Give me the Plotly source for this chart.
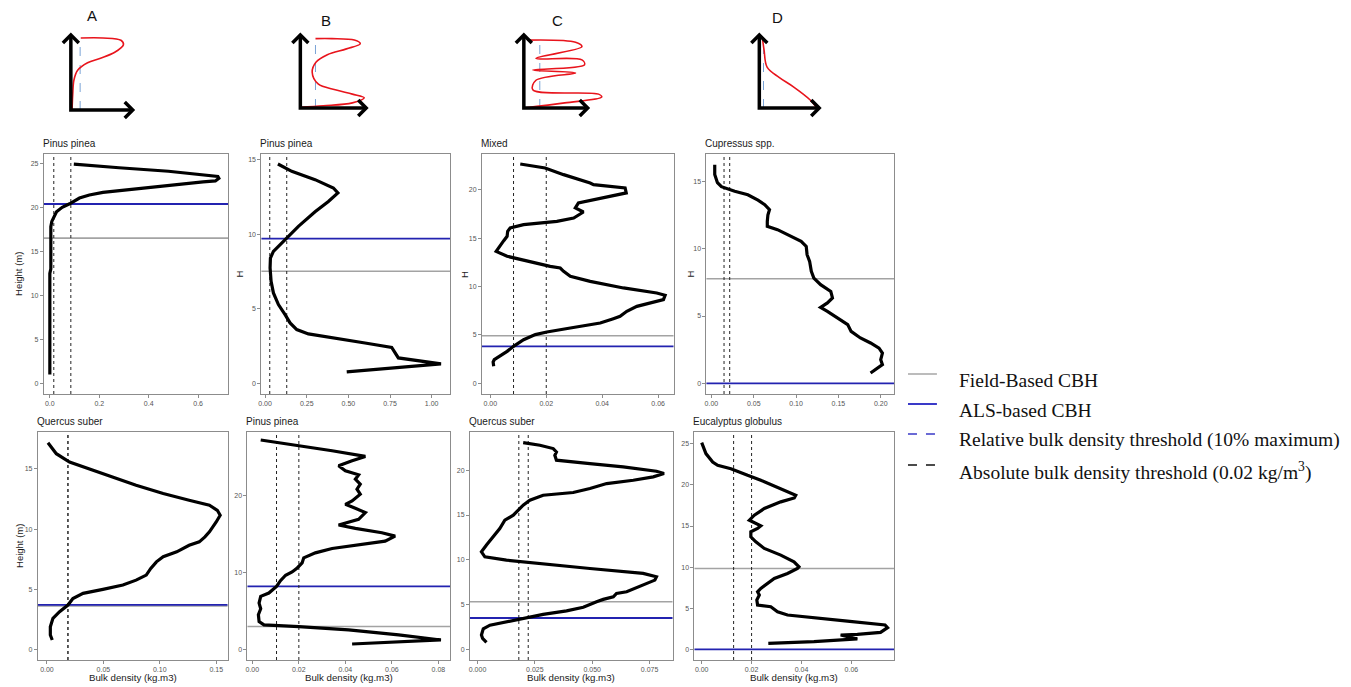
import plotly.graph_objects as go

W, H = 1351, 687

# ---------------- data ----------------
species = ["Pinus pinea", "Pinus pinea", "Mixed", "Cupressus spp.",
           "Quercus suber", "Pinus pinea", "Quercus suber", "Eucalyptus globulus"]

bd1 = [0.0, 0.0, 0.0, 0.0, 0.0, 0.0, 0.004, 0.004, 0.004, 0.004, 0.004, 0.008, 0.018, 0.027,
       0.05, 0.08, 0.12, 0.16, 0.215, 0.28, 0.35, 0.48, 0.62, 0.67, 0.684, 0.68, 0.59, 0.48, 0.28, 0.097]
h1 = [1.0, 3.0, 5.0, 8.0, 10.0, 12.5, 13.0, 15.0, 16.0, 17.0, 17.8, 18.4, 19.0, 19.5,
      20.0, 20.4, 21.06, 21.4, 21.7, 21.9, 22.1, 22.5, 22.9, 23.0, 23.3, 23.5, 23.8, 24.1, 24.5, 24.9]

bd2 = [0.49, 1.056, 0.80, 0.776, 0.76, 0.60, 0.40, 0.26, 0.19, 0.15, 0.12, 0.08, 0.05, 0.036,
       0.03, 0.032, 0.05, 0.09, 0.13, 0.20, 0.30, 0.38, 0.437, 0.41, 0.30, 0.16, 0.077]
h2 = [0.76, 1.30, 1.70, 2.08, 2.41, 2.70, 3.04, 3.31, 3.60, 4.05, 4.60, 5.28, 6.06, 6.84,
      7.74, 8.40, 8.85, 9.30, 9.70, 10.53, 11.50, 12.20, 12.77, 13.10, 13.66, 14.22, 14.71]

bd3 = [0.0012, 0.001, 0.0014, 0.0024, 0.006, 0.0083, 0.0119, 0.0161, 0.0202, 0.0286, 0.0393, 0.044,
       0.0464, 0.0488, 0.0524, 0.0619, 0.0625, 0.0595, 0.0476, 0.0357, 0.0286, 0.0262, 0.025, 0.0214,
       0.0119, 0.006, 0.0021, 0.003, 0.0048, 0.006, 0.0062, 0.0071, 0.0119, 0.0238, 0.0298, 0.0333,
       0.0304, 0.0315, 0.0405, 0.0486, 0.0482, 0.0369, 0.0357, 0.0262, 0.0196, 0.0107]
h3 = [1.76, 2.2, 2.44, 2.62, 3.30, 3.82, 4.51, 5.03, 5.30, 5.71, 6.23, 6.68,
      6.92, 7.44, 7.95, 8.64, 9.09, 9.33, 9.85, 10.53, 11.05, 11.57, 11.91, 12.08,
      12.77, 13.12, 13.63, 14.04, 14.73, 15.18, 15.70, 16.04, 16.39, 16.73, 17.07, 17.69,
      18.11, 18.62, 19.14, 19.66, 20.17, 20.52, 20.69, 21.55, 22.24, 22.65]

bd4 = [0.0039, 0.0039, 0.0071, 0.0118, 0.0275, 0.043, 0.055, 0.063, 0.0686, 0.0667, 0.066, 0.066,
       0.078, 0.094, 0.106, 0.112, 0.113, 0.116, 0.118, 0.121, 0.129, 0.141, 0.143, 0.137, 0.129,
       0.137, 0.153, 0.161, 0.165, 0.176, 0.188, 0.198, 0.202, 0.2, 0.202, 0.194, 0.188]
h4 = [16.24, 15.5, 14.9, 14.6, 14.26, 14.0, 13.6, 13.27, 12.9, 12.5, 12.03, 11.66,
      11.41, 10.92, 10.54, 10.17, 9.55, 9.06, 8.32, 7.82, 7.33, 6.83, 6.34, 5.97, 5.64,
      5.35, 4.73, 4.36, 3.86, 3.37, 3.0, 2.62, 2.25, 1.76, 1.39, 1.01, 0.77]

bd5 = [0.0047, 0.003, 0.003, 0.0053, 0.0112, 0.0186, 0.023, 0.032, 0.0496, 0.0673, 0.079, 0.088,
       0.092, 0.097, 0.103, 0.115, 0.126, 0.135, 0.14, 0.144, 0.15, 0.1535, 0.151, 0.144, 0.126,
       0.103, 0.079, 0.058, 0.038, 0.02, 0.0083, 0.0009]
h5 = [0.80, 1.22, 1.9, 2.6, 3.15, 3.70, 4.25, 4.67, 5.0, 5.36, 5.77, 6.19,
      6.74, 7.29, 7.71, 8.12, 8.67, 8.95, 9.36, 9.78, 10.6, 11.16, 11.57, 11.99, 12.4,
      12.96, 13.65, 14.34, 15.03, 15.58, 16.27, 17.18]

bd6 = [0.0429, 0.0811, 0.0629, 0.0414, 0.02, 0.005, 0.0029, 0.0026, 0.0036, 0.0029, 0.0036, 0.0071,
       0.0104, 0.0121, 0.0143, 0.0171, 0.0193, 0.0214, 0.0221, 0.0271, 0.0343, 0.0457, 0.0571, 0.0614,
       0.0557, 0.0443, 0.0371, 0.0457, 0.0486, 0.0443, 0.04, 0.0429, 0.0464, 0.045, 0.0464, 0.0443,
       0.0457, 0.04, 0.0371, 0.0429, 0.0486, 0.0343, 0.02, 0.0036]
h6 = [0.78, 1.30, 1.96, 2.61, 3.04, 3.26, 3.7, 4.57, 5.35, 6.09, 6.96, 7.39,
      8.26, 9.0, 9.7, 10.13, 10.65, 11.3, 11.96, 12.61, 13.17, 13.7, 14.13, 14.78,
      15.22, 15.78, 16.22, 16.96, 17.83, 18.39, 18.91, 19.35, 20.22, 20.87, 21.52, 22.17,
      22.74, 23.26, 23.91, 24.57, 25.13, 25.87, 26.5, 27.26]

bd7 = [0.0039, 0.0022, 0.0017, 0.0025, 0.0054, 0.0126, 0.02, 0.0286, 0.0388, 0.0461, 0.0519, 0.0548,
       0.0592, 0.0606, 0.065, 0.0722, 0.0773, 0.078, 0.0722, 0.049, 0.0272, 0.0126, 0.0032, 0.0017,
       0.0039, 0.0068, 0.0097, 0.0119, 0.0156, 0.017, 0.0199, 0.0228, 0.0286, 0.0417, 0.049, 0.0563,
       0.0679, 0.0766, 0.0813, 0.078, 0.0635, 0.049, 0.0344, 0.0337, 0.0344, 0.033, 0.0272, 0.0199]
h7 = [0.78, 1.23, 1.6, 2.3, 2.7, 3.1, 3.5, 3.9, 4.3, 4.7, 5.32, 5.58,
      5.87, 6.25, 6.43, 7.17, 7.73, 8.1, 8.48, 9.03, 9.59, 9.96, 10.33, 10.89,
      11.64, 12.57, 13.49, 14.42, 14.98, 15.35, 16.1, 16.65, 17.21, 17.51, 17.96, 18.51,
      18.88, 19.26, 19.63, 19.89, 20.37, 20.74, 21.12, 21.67, 22.04, 22.42, 22.79, 23.09]

bd8 = [0.0267, 0.045, 0.0624, 0.0584, 0.0557, 0.0624, 0.0717, 0.0745, 0.0735, 0.0584, 0.045, 0.0344,
       0.0304, 0.0277, 0.0224, 0.0221, 0.0231, 0.0224, 0.0237, 0.0264, 0.0291, 0.0344, 0.0384, 0.039,
       0.037, 0.0317, 0.0251, 0.0217, 0.0197, 0.0197, 0.0224, 0.0237, 0.0217, 0.0191, 0.0211, 0.0251,
       0.0317, 0.0371, 0.0377, 0.0317, 0.0237, 0.0184, 0.0117, 0.0064, 0.0044, 0.0017, 0.0]
h8 = [0.73, 0.93, 1.26, 1.54, 1.74, 1.82, 2.06, 2.63, 2.96, 3.44, 3.85, 4.17,
      4.57, 5.18, 5.38, 5.99, 6.6, 7.0, 7.41, 8.02, 8.62, 9.23, 9.84, 10.04,
      10.65, 11.46, 12.27, 13.08, 13.68, 14.29, 14.7, 15.02, 15.3, 15.71, 16.32, 17.13,
      17.94, 18.42, 18.74, 19.55, 20.57, 21.17, 21.98, 22.39, 22.79, 23.81, 25.14]

bulk_density = [bd1, bd2, bd3, bd4, bd5, bd6, bd7, bd8]
heights = [h1, h2, h3, h4, h5, h6, h7, h8]

field_cbh = [16.5, 7.51, 4.92, 7.77, 3.62, 3.04, 5.32, 9.84]
als_cbh = [20.38, 9.70, 3.82, 0.0, 3.72, 8.26, 3.5, 0.0]
abs_threshold = [0.016, 0.028, 0.02, 0.0149, 0.0186, 0.02, 0.018, 0.02]
rel_threshold = [0.085, 0.13, 0.0083, 0.0216, 0.0186, 0.0104, 0.0221, 0.0128]

x_tickvals = [[0, 0.2, 0.4, 0.6], [0, 0.25, 0.5, 0.75, 1.0], [0, 0.02, 0.04, 0.06],
              [0, 0.05, 0.1, 0.15, 0.2], [0, 0.05, 0.1, 0.15], [0, 0.02, 0.04, 0.06, 0.08],
              [0, 0.025, 0.05, 0.075], [0, 0.02, 0.04, 0.06]]
x_ticktext = [["0.0", "0.2", "0.4", "0.6"], ["0.00", "0.25", "0.50", "0.75", "1.00"],
              ["0.00", "0.02", "0.04", "0.06"], ["0.00", "0.05", "0.10", "0.15", "0.20"],
              ["0.00", "0.05", "0.10", "0.15"], ["0.00", "0.02", "0.04", "0.06", "0.08"],
              ["0.000", "0.025", "0.050", "0.075"], ["0.00", "0.02", "0.04", "0.06"]]
y_tickvals = [[0, 5, 10, 15, 20, 25], [0, 5, 10, 15], [0, 5, 10, 15, 20], [0, 5, 10, 15],
              [0, 5, 10, 15], [0, 10, 20], [0, 5, 10, 15, 20], [0, 5, 10, 15, 20, 25]]
y_titles = ["Height (m)", "H", "H", "H", "Height (m)", "", "", ""]
x_title = "Bulk density (kg.m3)"

# schematic profiles (normalised units)
schem_labels = ["A", "B", "C", "D"]
schem_x = [[0.02, 0.03, 0.05, 0.11, 0.27, 0.48, 0.71, 0.85, 0.81, 0.52, 0.16],
           [0.0, 0.35, 0.79, 0.97, 0.79, 0.53, 0.27, 0.18, 0.24, 0.41, 0.70, 0.91, 0.82, 0.48, 0.23],
           [0.0, 0.64, 1.22, 1.17, 0.14, 0.19, 0.81, 0.14, 0.95, 0.91, 0.19, 0.91, 0.81, 0.05],
           [0.05, 0.08, 0.13, 0.33, 0.57, 0.85, 0.95]]
schem_y = [[0.0, 0.2, 0.4, 0.53, 0.63, 0.69, 0.77, 0.87, 0.93, 0.96, 0.96],
           [0.01, 0.03, 0.07, 0.14, 0.19, 0.25, 0.33, 0.49, 0.63, 0.73, 0.81, 0.88, 0.93, 0.95, 0.95],
           [0.0, 0.07, 0.15, 0.19, 0.25, 0.38, 0.48, 0.52, 0.59, 0.66, 0.68, 0.84, 0.90, 0.93],
           [0.97, 0.79, 0.56, 0.42, 0.29, 0.11, 0.01]]
schem_threshold = [0.15, 0.23, 0.25, 0.07]

legend_labels = ["Field-Based CBH", "ALS-based CBH",
                 "Relative bulk density threshold (10% maximum)",
                 "Absolute bulk density threshold (0.02 kg/m<sup>3</sup>)"]

# ---------------- layout geometry (pixels) ----------------
frames = [(41, 226, 154, 394), (259, 448, 154, 394), (480, 672, 154, 394), (705, 893, 154, 394),
          (35, 225, 432, 660), (245, 448, 432, 660), (468, 671, 432, 660), (693, 893, 432, 660)]
x_ranges = [[-0.024, 0.723], [-0.022, 1.11], [-0.003, 0.0655], [-0.0059, 0.2157],
            [-0.008, 0.160], [-0.0021, 0.085], [-0.0033, 0.085], [-0.0029, 0.0771]]
y_ranges = [[-1.21, 26.06], [-0.72, 15.38], [-1.1, 23.68], [-0.79, 17.03],
            [-0.86, 18.07], [-1.3, 28.3], [-1.19, 24.27], [-1.3, 26.44]]
ytitle_x = [15, 237, 462, 689, 16, 0, 0, 0]
schem_boxes = [(68, 110, 62, 75), (298, 108, 66, 73), (522, 108, 64, 73), (758, 108, 60, 73)]
letter_pos = [(89, 15), (324, 21), (556, 21), (776, 18)]


def px_x(p):
    return p / W


def px_y(p):
    return 1 - p / H


fig = go.Figure()
shapes = []
annotations = []
GRID = "#8c8c8c"
TICKFONT = dict(family="Liberation Sans, Arial", size=7, color="#555555")

for i in range(8):
    n = i + 1
    xa = "x" if n == 1 else f"x{n}"
    ya = "y" if n == 1 else f"y{n}"
    xk = "xaxis" if n == 1 else f"xaxis{n}"
    yk = "yaxis" if n == 1 else f"yaxis{n}"
    x0, x1, y0, y1 = frames[i]
    fig.add_trace(go.Scatter(x=bulk_density[i], y=heights[i], mode="lines",
                             line=dict(color="black", width=3.2), xaxis=xa, yaxis=ya,
                             hoverinfo="skip"))
    common = dict(showline=True, mirror=True, linecolor=GRID, linewidth=1, ticks="outside",
                  ticklen=3, tickcolor=GRID, tickwidth=1, tickfont=TICKFONT, showgrid=False,
                  zeroline=False)
    fig.layout[xk] = dict(domain=[px_x(x0), px_x(x1)], anchor=ya, range=x_ranges[i],
                          tickvals=x_tickvals[i], ticktext=x_ticktext[i], **common)
    fig.layout[yk] = dict(domain=[px_y(y1), px_y(y0)], anchor=xa, range=y_ranges[i],
                          tickvals=y_tickvals[i], ticktext=[str(v) for v in y_tickvals[i]], **common)
    shapes.append(dict(type="line", xref=f"{xa} domain", x0=0, x1=1, yref=ya,
                       y0=field_cbh[i], y1=field_cbh[i], layer="below",
                       line=dict(color="#a3a3a3", width=1.6)))
    shapes.append(dict(type="line", xref=f"{xa} domain", x0=0, x1=1, yref=ya,
                       y0=als_cbh[i], y1=als_cbh[i], layer="below",
                       line=dict(color="#2323b0", width=1.8)))
    for v in (abs_threshold[i], rel_threshold[i]):
        shapes.append(dict(type="line", yref=f"{ya} domain", y0=0, y1=1, xref=xa,
                           x0=v, x1=v, layer="below",
                           line=dict(color="#222222", width=1, dash="dot")))
    annotations.append(dict(text=species[i], xref="paper", yref="paper",
                            x=px_x(x0 - 3), y=px_y(y0 - 11), xanchor="left", yanchor="middle",
                            showarrow=False, font=dict(family="Liberation Sans, Arial", size=10,
                                                       color="#1a1a1a")))
    if y_titles[i]:
        annotations.append(dict(text=y_titles[i], xref="paper", yref="paper",
                                x=px_x(ytitle_x[i]), y=px_y((y0 + y1) / 2), textangle=-90,
                                xanchor="center", yanchor="middle", showarrow=False,
                                font=dict(family="Liberation Sans, Arial", size=9.5,
                                          color="#1a1a1a")))
    if n >= 5:
        annotations.append(dict(text=x_title, xref="paper", yref="paper",
                                x=px_x((x0 + x1) / 2), y=px_y(677), xanchor="center",
                                yanchor="middle", showarrow=False,
                                font=dict(family="Liberation Sans, Arial", size=9.7,
                                          color="#1a1a1a")))

# ---------------- schematic sketches ----------------
XPAD0, XPAD1, YPAD0, YPAD1 = -0.3, 1.4, -0.2, 1.2
for k in range(4):
    n = 9 + k
    xa, ya = f"x{n}", f"y{n}"
    ox, oy, w, h = schem_boxes[k]
    fig.layout[f"xaxis{n}"] = dict(domain=[px_x(ox + XPAD0 * w), px_x(ox + XPAD1 * w)],
                                   range=[XPAD0, XPAD1], visible=False, anchor=ya,
                                   fixedrange=True)
    fig.layout[f"yaxis{n}"] = dict(domain=[px_y(oy - YPAD0 * h), px_y(oy - YPAD1 * h)],
                                   range=[YPAD0, YPAD1], visible=False, anchor=xa,
                                   fixedrange=True)
    fig.add_trace(go.Scatter(x=[schem_threshold[k]] * 2, y=[0, 0.96], mode="lines",
                             line=dict(color="#7aa3d6", width=1, dash="dash"),
                             xaxis=xa, yaxis=ya, hoverinfo="skip"))
    fig.add_trace(go.Scatter(x=schem_x[k], y=schem_y[k], mode="lines",
                             line=dict(color="#e8141c", width=1.6, shape="spline", smoothing=1.0),
                             xaxis=xa, yaxis=ya, hoverinfo="skip"))
    a, b = 8 / w, 8 / h
    c, d = 8 / h, 8 / w
    ax_x = [0, 0, 1, None, -a, 0, a, None, 1 - d, 1, 1 - d]
    ax_y = [1, 0, 0, None, 1 - b, 1, 1 - b, None, c, 0, -c]
    fig.add_trace(go.Scatter(x=ax_x, y=ax_y, mode="lines",
                             line=dict(color="black", width=3.5), xaxis=xa, yaxis=ya,
                             hoverinfo="skip"))
    lx, ly = letter_pos[k]
    annotations.append(dict(text=schem_labels[k], xref="paper", yref="paper", x=px_x(lx),
                            y=px_y(ly), showarrow=False, xanchor="center", yanchor="middle",
                            font=dict(family="Liberation Sans, Arial", size=15, color="#111111")))

# ---------------- legend ----------------
leg_y = [380, 410, 440, 471]
leg_styles = [dict(color="#a6a6a6", width=1.5), dict(color="#3a3ac8", width=2),
              dict(color="#3a3ac8", width=1.5, dash="dash"), dict(color="#111111", width=1.5, dash="dash")]
for j, lab in enumerate(legend_labels):
    yy = leg_y[j]
    shapes.append(dict(type="line", xref="paper", yref="paper", x0=px_x(907), x1=px_x(936),
                       y0=px_y(yy - 6), y1=px_y(yy - 6), line=leg_styles[j]))
    annotations.append(dict(text=lab, xref="paper", yref="paper", x=px_x(956), y=px_y(yy),
                            xanchor="left", yanchor="middle", showarrow=False,
                            font=dict(family="Liberation Serif, Times New Roman", size=19.5,
                                      color="#111111")))

fig.update_layout(width=W, height=H, margin=dict(l=0, r=0, t=0, b=0),
                  paper_bgcolor="white", plot_bgcolor="white", showlegend=False,
                  shapes=shapes, annotations=annotations)

fig.write_html("out.html", config={"displayModeBar": False},
               post_script="document.body.style.margin='0px';")
